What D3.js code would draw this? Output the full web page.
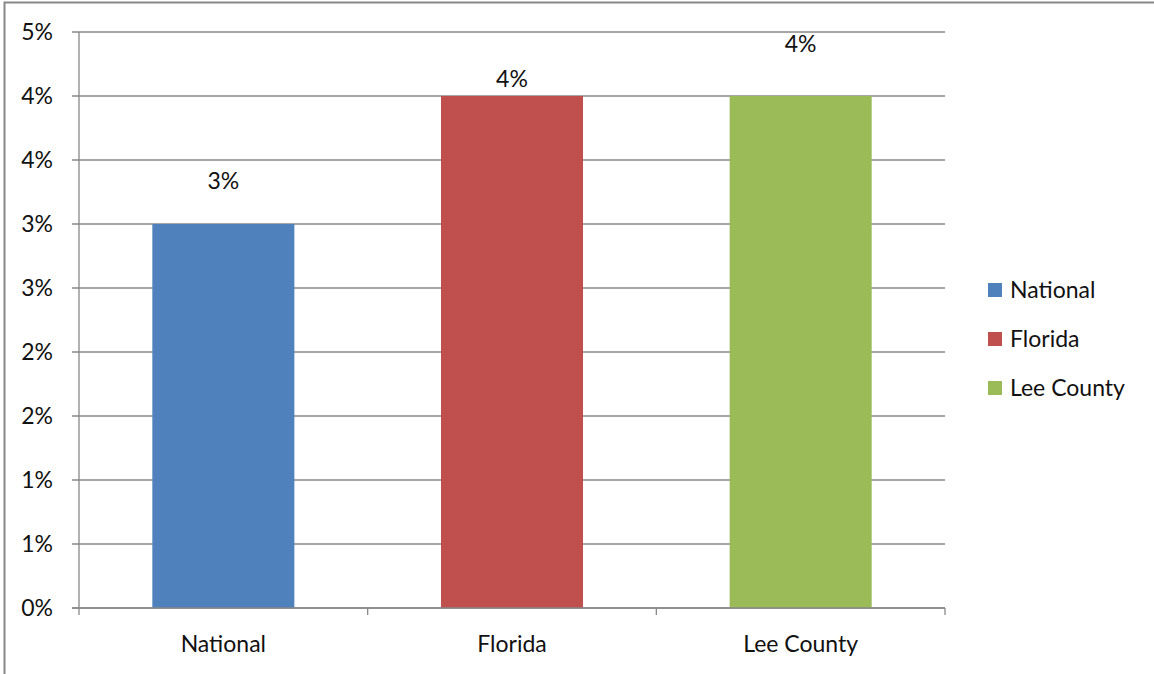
<!DOCTYPE html>
<html>
<head>
<meta charset="utf-8">
<script src="https://cdn.jsdelivr.net/npm/d3@7"></script>
<style>
  html, body { margin: 0; padding: 0; background: #fff; }
  svg { display: block; font-family: Lato, "Open Sans", sans-serif; }
  .grid-line { stroke: #888; stroke-width: 1.3; }
  .axis-line { stroke: #888; stroke-width: 1.3; }
  text { fill: #111; font-size: 23px; }
</style>
</head>
<body>
<svg id="chart" width="1154" height="674"></svg>
<script>
/* ── Data ──────────────────────────────────────────────────────────────── */
const CATEGORIES = ['National', 'Florida', 'Lee County'];
const VALUES     = [0.030, 0.040, 0.040];
const COLORS     = ['#4F81BD', '#C0504D', '#9BBB59'];
const Y_TICKS    = [0, 0.005, 0.01, 0.015, 0.02, 0.025, 0.03, 0.035, 0.04, 0.045];

/* ── Layout ────────────────────────────────────────────────────────────── */
const W = 1154, H = 674;
const M = { l: 79, r: 209, t: 32, b: 66 };
const LABEL_GAP = [35, 9, 44];   // data label baseline distance above bar top (manually placed in source)

const svg = d3.select('#chart');

// outer frame (left + top edges visible)
svg.append('path')
   .attr('d', `M4.5,${H} L4.5,2.5 L${W},2.5`)
   .attr('fill', 'none').attr('stroke', '#888').attr('stroke-width', 2);

const x = d3.scaleBand().domain(CATEGORIES).range([M.l, W - M.r]).padding(0);
const y = d3.scaleLinear().domain([0, 0.045]).range([H - M.b, M.t]);
const fmtPct = d3.format('.0%');

// gridlines + y ticks
Y_TICKS.forEach(t => {
  svg.append('line').attr('class', 'grid-line')
     .attr('x1', M.l - 7).attr('x2', W - M.r).attr('y1', y(t)).attr('y2', y(t));
  svg.append('text').attr('x', 53).attr('y', y(t) + 8)
     .attr('text-anchor', 'end').text(fmtPct(t));
});

// bars
const barW = x.bandwidth() * 0.492;
svg.selectAll('rect.bar').data(CATEGORIES).join('rect')
   .attr('class', 'bar')
   .attr('x', d => x(d) + (x.bandwidth() - barW) / 2)
   .attr('width', barW)
   .attr('y', (d, i) => y(VALUES[i]))
   .attr('height', (d, i) => y(0) - y(VALUES[i]))
   .attr('fill', (d, i) => COLORS[i]);

// data labels
svg.selectAll('text.dlabel').data(CATEGORIES).join('text')
   .attr('class', 'dlabel')
   .attr('x', d => x(d) + x.bandwidth() / 2)
   .attr('y', (d, i) => y(VALUES[i]) - LABEL_GAP[i])
   .attr('text-anchor', 'middle')
   .text((d, i) => fmtPct(VALUES[i]));

// axes
svg.append('line').attr('class', 'axis-line')
   .attr('x1', M.l).attr('x2', M.l).attr('y1', M.t).attr('y2', y(0) + 7);
svg.append('line').attr('class', 'axis-line')
   .attr('x1', M.l - 7).attr('x2', W - M.r).attr('y1', y(0)).attr('y2', y(0));
CATEGORIES.forEach((c, i) => {
  svg.append('line').attr('class', 'axis-line')
     .attr('x1', x(c) + x.bandwidth()).attr('x2', x(c) + x.bandwidth())
     .attr('y1', y(0)).attr('y2', y(0) + 7);
  svg.append('text').attr('x', x(c) + x.bandwidth() / 2).attr('y', y(0) + 44)
     .attr('text-anchor', 'middle').text(c);
});

// legend
const lg = svg.append('g').attr('transform', 'translate(988,290)');
CATEGORIES.forEach((c, i) => {
  const row = lg.append('g').attr('transform', `translate(0,${i * 49})`);
  row.append('rect').attr('x', 0).attr('y', -7).attr('width', 14).attr('height', 14).attr('fill', COLORS[i]);
  row.append('text').attr('x', 22).attr('y', 8).text(c);
});
</script>
</body>
</html>
